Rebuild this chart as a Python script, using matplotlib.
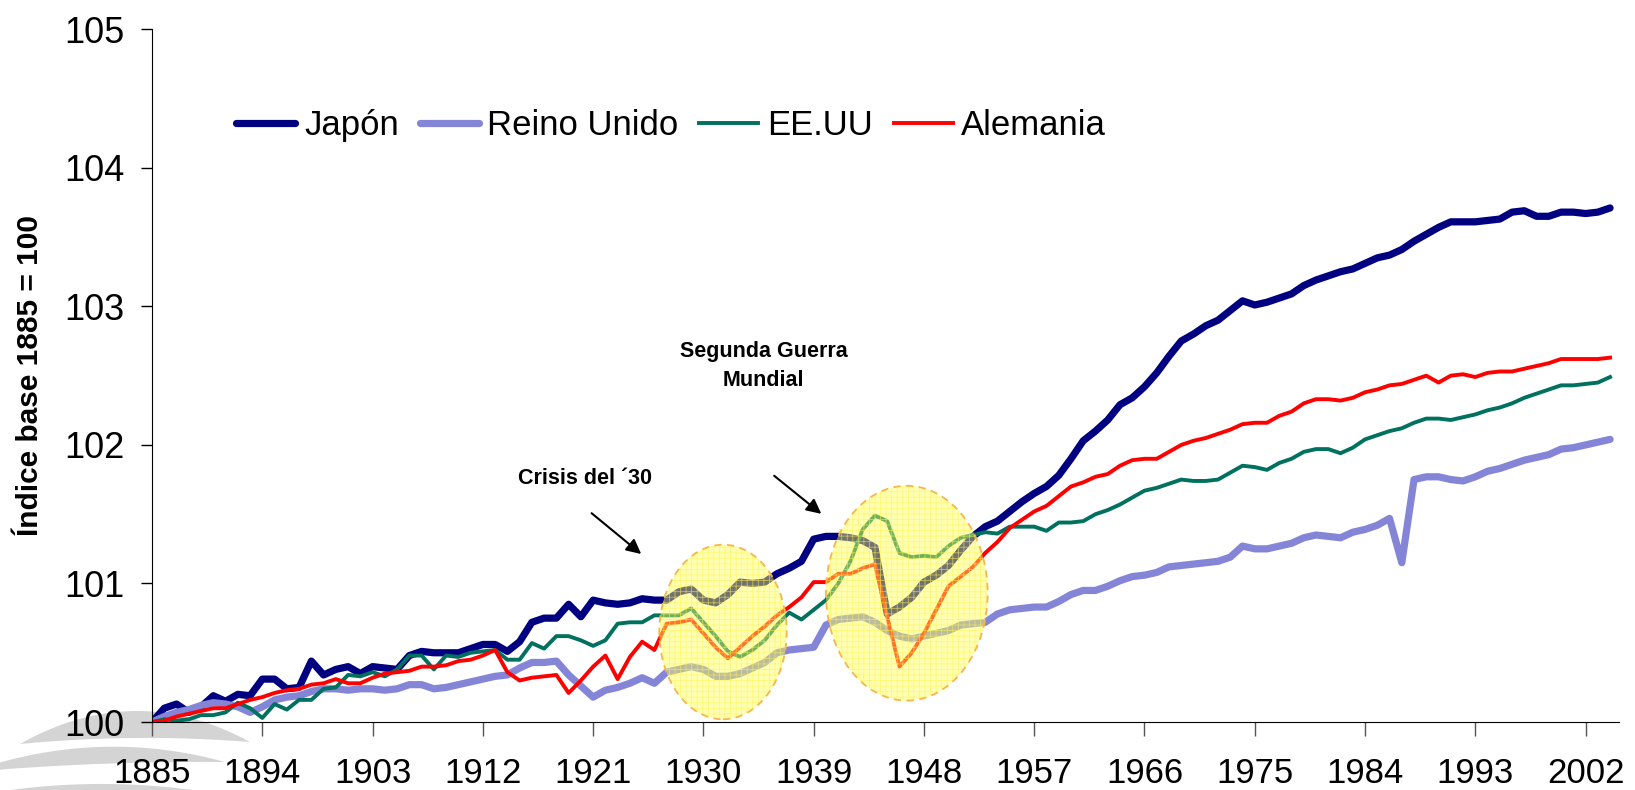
import numpy as np
import matplotlib
matplotlib.use("Agg")
import matplotlib.pyplot as plt
from matplotlib.patches import Ellipse, Polygon

plt.rcParams['font.family'] = ['Liberation Sans', 'DejaVu Sans']
plt.rcParams['hatch.linewidth'] = 0.6

years = np.arange(1885, 2005)
tick_years = list(range(1885, 2003, 9))

japon = [
    100.00, 100.10, 100.13, 100.07, 100.11, 100.19, 100.15, 100.20, 100.19, 100.31,
    100.31, 100.24, 100.25, 100.44, 100.34, 100.38, 100.40, 100.35, 100.40, 100.39,
    100.38, 100.48, 100.51, 100.50, 100.50, 100.50, 100.53, 100.56, 100.56, 100.51,
    100.58, 100.72, 100.75, 100.75, 100.85, 100.76, 100.88, 100.86, 100.85, 100.86,
    100.89, 100.88, 100.88, 100.94, 100.96, 100.88, 100.86, 100.92, 101.01, 101.00,
    101.01, 101.07, 101.11, 101.16, 101.32, 101.34, 101.34, 101.33, 101.31, 101.26,
    100.78, 100.83, 100.90, 101.01, 101.06, 101.13, 101.24, 101.34, 101.41, 101.45,
    101.52, 101.59, 101.65, 101.70, 101.78, 101.90, 102.03, 102.10, 102.18, 102.29,
    102.34, 102.42, 102.52, 102.64, 102.75, 102.80, 102.86, 102.90, 102.97, 103.04,
    103.01, 103.03, 103.06, 103.09, 103.15, 103.19, 103.22, 103.25, 103.27, 103.31,
    103.35, 103.37, 103.41, 103.47, 103.52, 103.57, 103.61, 103.61, 103.61, 103.62,
    103.63, 103.68, 103.69, 103.65, 103.65, 103.68, 103.68, 103.67, 103.68, 103.71,
]

reino_unido = [
    100.00, 100.04, 100.07, 100.09, 100.12, 100.14, 100.13, 100.11, 100.07, 100.11,
    100.16, 100.18, 100.19, 100.22, 100.24, 100.24, 100.23, 100.24, 100.24, 100.23,
    100.24, 100.27, 100.27, 100.24, 100.25, 100.27, 100.29, 100.31, 100.33, 100.34,
    100.39, 100.43, 100.43, 100.44, 100.34, 100.26, 100.18, 100.23, 100.25, 100.28,
    100.32, 100.28, 100.36, 100.38, 100.40, 100.38, 100.33, 100.33, 100.35, 100.39,
    100.43, 100.50, 100.52, 100.53, 100.54, 100.70, 100.74, 100.75, 100.76, 100.72,
    100.66, 100.62, 100.60, 100.62, 100.64, 100.66, 100.70, 100.71, 100.72, 100.78,
    100.81, 100.82, 100.83, 100.83, 100.87, 100.92, 100.95, 100.95, 100.98, 101.02,
    101.05, 101.06, 101.08, 101.12, 101.13, 101.14, 101.15, 101.16, 101.19, 101.27,
    101.25, 101.25, 101.27, 101.29, 101.33, 101.35, 101.34, 101.33, 101.37, 101.39,
    101.42, 101.47, 101.15, 101.75, 101.77, 101.77, 101.75, 101.74, 101.77, 101.81,
    101.83, 101.86, 101.89, 101.91, 101.93, 101.97, 101.98, 102.00, 102.02, 102.04,
]

eeuu = [
    100.00, 100.02, 100.01, 100.02, 100.05, 100.05, 100.07, 100.14, 100.10, 100.03,
    100.13, 100.09, 100.16, 100.16, 100.24, 100.25, 100.34, 100.33, 100.36, 100.33,
    100.38, 100.48, 100.48, 100.38, 100.48, 100.47, 100.50, 100.51, 100.52, 100.45,
    100.45, 100.57, 100.53, 100.62, 100.62, 100.59, 100.55, 100.59, 100.71, 100.72,
    100.72, 100.77, 100.77, 100.77, 100.82, 100.72, 100.62, 100.51, 100.47, 100.52,
    100.59, 100.70, 100.79, 100.74, 100.81, 100.88, 101.00, 101.16, 101.39, 101.49,
    101.45, 101.22, 101.19, 101.20, 101.19, 101.27, 101.33, 101.35, 101.37, 101.36,
    101.41, 101.41, 101.41, 101.38, 101.44, 101.44, 101.45, 101.50, 101.53, 101.57,
    101.62, 101.67, 101.69, 101.72, 101.75, 101.74, 101.74, 101.75, 101.80, 101.85,
    101.84, 101.82, 101.87, 101.90, 101.95, 101.97, 101.97, 101.94, 101.98, 102.04,
    102.07, 102.10, 102.12, 102.16, 102.19, 102.19, 102.18, 102.20, 102.22, 102.25,
    102.27, 102.30, 102.34, 102.37, 102.40, 102.43, 102.43, 102.44, 102.45, 102.49,
]

alemania = [
    100.00, 100.01, 100.04, 100.06, 100.08, 100.10, 100.10, 100.13, 100.16, 100.18,
    100.21, 100.23, 100.24, 100.27, 100.28, 100.31, 100.28, 100.28, 100.32, 100.35,
    100.36, 100.37, 100.40, 100.40, 100.41, 100.44, 100.45, 100.48, 100.52, 100.36,
    100.30, 100.32, 100.33, 100.34, 100.21, 100.30, 100.40, 100.48, 100.31, 100.47,
    100.58, 100.52, 100.71, 100.72, 100.74, 100.64, 100.54, 100.46, 100.54, 100.62,
    100.69, 100.77, 100.83, 100.90, 101.01, 101.01, 101.07, 101.07, 101.11, 101.14,
    100.76, 100.40, 100.50, 100.64, 100.81, 100.98, 101.05, 101.12, 101.22, 101.30,
    101.40, 101.46, 101.52, 101.56, 101.63, 101.70, 101.73, 101.77, 101.79, 101.85,
    101.89, 101.90, 101.90, 101.95, 102.00, 102.03, 102.05, 102.08, 102.11, 102.15,
    102.16, 102.16, 102.21, 102.24, 102.30, 102.33, 102.33, 102.32, 102.34, 102.38,
    102.40, 102.43, 102.44, 102.47, 102.50, 102.45, 102.50, 102.51, 102.49, 102.52,
    102.53, 102.53, 102.55, 102.57, 102.59, 102.62, 102.62, 102.62, 102.62, 102.63,
]

W, H = 1635, 790
fig = plt.figure(figsize=(W / 100, H / 100), dpi=100)


def leaf(x0, x1, y0, y1, top, bottom):
    # grey lens shape of the background logo, pixel coords from the top-left
    t = np.linspace(0, 1, 40)
    xs = x0 + (x1 - x0) * t
    base = y0 + (y1 - y0) * t
    up = base - top * 4 * t * (1 - t)
    lo = base - bottom * 4 * t * (1 - t)
    pts = np.column_stack([np.r_[xs, xs[::-1]], H - np.r_[up, lo[::-1]]])
    return Polygon(pts, closed=True, transform=None, facecolor="#D4D4D4",
                   edgecolor="none", zorder=-5)


fig.patches.append(leaf(20, 250, 744, 742, 32, 5))
fig.patches.append(leaf(-30, 225, 772, 762, 20, 3))
fig.patches.append(leaf(-10, 200, 793, 791, 8, 0))

ax = fig.add_axes([0.093, 0.086, 0.897, 0.877])
ax.set_zorder(2)
ax.set_facecolor("none")

ax.plot(years, japon, color="#000080", lw=5.2, label="Japón", solid_capstyle="round")
ax.plot(years, reino_unido, color="#8585D8", lw=5.2, label="Reino Unido", solid_capstyle="round")
ax.plot(years, eeuu, color="#00705F", lw=2.8, label="EE.UU")
ax.plot(years, alemania, color="#FF0000", lw=2.8, label="Alemania")

# highlighted periods
for cx, cy, w, h in [(1931.6, 100.65, 10.4, 1.26), (1946.6, 100.93, 13.2, 1.55)]:
    ax.add_patch(Ellipse((cx, cy), w, h, facecolor=(1, 1, 0.35, 0.45),
                         edgecolor=(1, 0.95, 0.3, 0.6), hatch="+++", lw=0, zorder=5))
    ax.add_patch(Ellipse((cx, cy), w, h, facecolor="none", edgecolor="#F7B64A",
                         ls=(0, (4, 3)), lw=1.3, zorder=6))

ax.text(1920.3, 101.76, "Crisis del \u00b430", fontsize=15.5, fontweight="bold",
        ha="center", va="center")
ax.annotate("", xy=(1925.1, 101.20), xytext=(1920.7, 101.52),
            arrowprops=dict(arrowstyle="-|>", color="black", lw=1.5, mutation_scale=22))
ax.text(1934.9, 102.57, "Segunda Guerra\nMundial", fontsize=15.5, fontweight="bold",
        ha="center", va="center", linespacing=1.5)
ax.annotate("", xy=(1939.8, 101.49), xytext=(1935.6, 101.79),
            arrowprops=dict(arrowstyle="-|>", color="black", lw=1.5, mutation_scale=22))

ax.set_xlim(1885, 2004.7)
ax.set_ylim(100, 105)
ax.set_xticks(tick_years)
ax.set_xticklabels([str(y) for y in tick_years], fontsize=25)
ax.set_yticks(range(100, 106))
ax.set_yticklabels([str(v) for v in range(100, 106)], fontsize=26)
ax.tick_params(axis="x", length=10, width=1, color="#555555", pad=15)
ax.tick_params(axis="y", length=8, width=1, pad=12)
for s in ["top", "right"]:
    ax.spines[s].set_visible(False)
ax.set_ylabel("Índice base 1885 = 100", fontsize=21.5, fontweight="bold", labelpad=14)

ax.legend(loc="center left", bbox_to_anchor=(0.048, 0.861), ncol=4, frameon=False,
          fontsize=25, handlelength=1.7, handletextpad=0.25, columnspacing=0.6,
          borderaxespad=0)

fig.savefig("out.png", dpi=100)
